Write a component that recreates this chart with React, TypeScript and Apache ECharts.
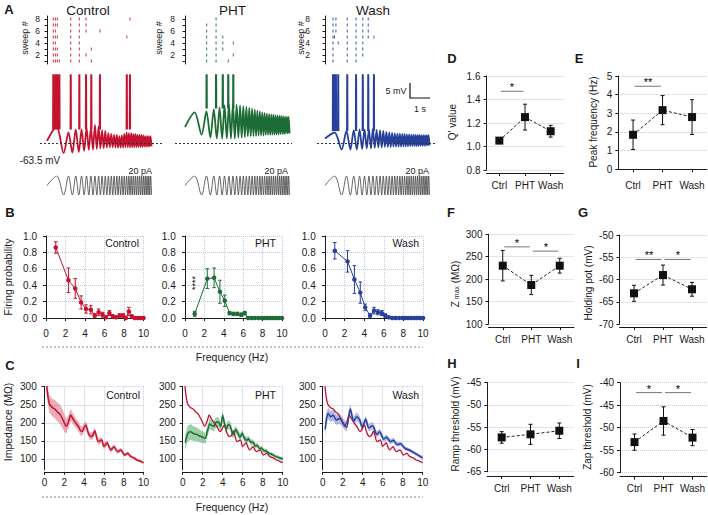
import React, { useEffect, useRef } from 'react';
import * as echarts from 'echarts';

const FONT = '"Liberation Sans", Arial, Helvetica, sans-serif';
const INK = '#1a1a1a';
const GRIDC = '#c3c7de';
const RED = '#c4122f';
const GREEN = '#1d6b35';
const BLUE = '#26409b';
const RED_BAND = 'rgba(205, 60, 80, 0.42)';
const GREEN_BAND = 'rgba(40, 150, 60, 0.45)';
const BLUE_BAND = 'rgba(70, 90, 190, 0.42)';

// ---------------- Panel A: ZAP stimulus extrema (s) and voltage responses (mV) ----------------
const zapExtremaT = [
  0.456, 0.791, 1.021, 1.208, 1.369, 1.514, 1.646, 1.768, 1.882, 1.990,
  2.092, 2.189, 2.282, 2.372, 2.458, 2.541, 2.622, 2.700, 2.776, 2.850,
  2.923, 2.993, 3.062, 3.129, 3.195, 3.260, 3.323, 3.385, 3.446, 3.506,
  3.565, 3.623, 3.680, 3.736, 3.791, 3.846, 3.900, 3.953, 4.005, 4.057,
  4.108, 4.158, 4.208, 4.257, 4.306, 4.354, 4.402, 4.449, 4.495, 4.541,
  4.587, 4.632, 4.677, 4.721, 4.765, 4.809, 4.852, 4.895, 4.937, 4.979,
];
const baselineMV = -63.5;
const ctrlTraceStart = -62.8;
const ctrlTraceV = [
  -58.0, -66.9, -60.0, -66.7, -59.0, -66.5, -59.0, -66.2, -58.5, -65.8,
  -58.5, -65.7, -57.5, -65.5, -58.0, -65.3, -59.2, -65.2, -59.5, -65.0,
  -60.2, -64.9, -60.5, -64.9, -60.8, -65.0, -60.8, -65.0, -61.2, -65.0,
  -61.0, -65.0, -60.5, -64.9, -60.0, -64.9, -60.2, -65.0, -60.2, -65.0,
  -60.5, -64.9, -60.5, -64.9, -60.7, -64.8, -60.8, -64.8, -60.8, -64.8,
  -61.0, -64.7, -61.2, -64.7, -61.2, -64.7, -61.2, -64.6, -61.3, -64.6,
];
const phtTraceStart = -58.2;
const phtTraceV = [
  -53.3, -60.7, -53.0, -61.7, -52.3, -62.0, -51.7, -62.0, -51.0, -62.0,
  -50.7, -62.0, -50.5, -62.0, -50.7, -61.7, -51.0, -61.7, -51.2, -61.5,
  -51.5, -61.3, -51.7, -61.3, -52.0, -61.2, -52.3, -61.2, -52.7, -61.0,
  -53.0, -61.0, -53.3, -61.0, -53.5, -60.8, -53.7, -60.8, -53.8, -60.8,
  -54.0, -60.7, -54.0, -60.7, -54.2, -60.7, -54.3, -60.6, -54.4, -60.5,
  -54.5, -60.5, -54.6, -60.5, -54.7, -60.4, -54.7, -60.3, -54.8, -60.3,
];
const washTraceStart = -62.0;
const washTraceV = [
  -60.0, -65.7, -59.5, -65.7, -59.2, -65.7, -59.0, -65.5, -59.0, -65.3,
  -59.0, -65.3, -58.8, -65.1, -59.1, -65.0, -59.3, -65.0, -59.5, -64.8,
  -59.8, -64.8, -60.0, -64.8, -60.1, -64.7, -60.3, -64.7, -60.4, -64.7,
  -60.4, -64.7, -60.5, -64.6, -60.5, -64.6, -60.6, -64.6, -60.6, -64.5,
  -60.7, -64.5, -60.7, -64.5, -60.8, -64.5, -60.8, -64.5, -60.8, -64.4,
  -60.9, -64.4, -60.9, -64.4, -60.9, -64.4, -60.9, -64.3, -60.9, -64.3,
];
const ctrlSpikeBase = -59;
const phtSpikeBase = -52;
const washSpikeBase = -59.5;

// spike times (s) per sweep 1..8
const ctrlRaster = [
  [0.30, 0.40, 0.49, 0.59, 1.13, 1.54, 2.11],
  [0.30, 0.40, 0.49, 1.13, 1.54, 1.86],
  [0.30, 0.40, 0.49, 1.13, 1.54, 2.11],
  [0.30, 0.40, 1.13, 1.54],
  [0.30, 0.40, 0.49, 1.13, 1.54, 3.80],
  [0.30, 0.40, 1.13, 1.54, 1.86, 2.52],
  [0.30, 0.40, 0.49, 1.13, 1.54, 1.86],
  [0.30, 0.40, 0.49, 1.13, 1.54, 1.86, 3.95],
];
const phtRaster = [
  [1.03, 1.48, 2.06],
  [1.03, 1.48, 2.30],
  [1.03, 1.48, 1.80],
  [1.03, 1.48, 1.80, 2.30],
  [1.03, 1.48, 1.80],
  [1.03, 1.48],
  [1.03, 1.48],
  [1.48],
];
const washRaster = [
  [0.38, 1.06, 1.48],
  [0.38, 1.06, 1.48, 1.80],
  [0.38, 1.06, 1.48, 1.80],
  [0.38, 0.63, 1.06, 1.48, 1.80],
  [0.38, 0.45, 1.06, 1.48, 1.80, 2.06, 2.33],
  [0.38, 0.52, 1.06, 1.48, 1.80, 2.06],
  [0.38, 0.52, 1.06, 1.48, 1.80, 2.06],
  [0.38, 0.52, 1.06, 1.48, 1.80, 2.06],
];

// ---------------- Panel B: firing probability ----------------
const fpFreq = [1.0, 2.3, 3.0, 3.6, 4.1, 4.6, 5.0, 5.4, 5.8, 6.15, 6.5, 6.85, 7.2, 7.55, 7.9, 8.2, 8.5, 8.8, 9.1, 9.4, 9.7, 10.0];
const ctrlFP = [0.86, 0.46, 0.36, 0.19, 0.11, 0.10, 0.03, 0.07, 0.04, 0.01, 0.06, 0.02, 0.01, 0.03, 0.03, 0.0, 0.08, 0.02, 0.0, 0.0, 0.0, 0.0];
const ctrlFPErr = [0.07, 0.15, 0.12, 0.08, 0.05, 0.05, 0.02, 0.04, 0.03, 0.01, 0.03, 0.02, 0.01, 0.02, 0.02, 0, 0.05, 0.02, 0, 0, 0, 0];
const phtFP = [0.05, 0.48, 0.49, 0.32, 0.21, 0.06, 0.05, 0.05, 0.04, 0.06, 0, 0, 0, 0, 0, 0, 0, 0, 0, 0, 0, 0];
const phtFPErr = [0.03, 0.12, 0.12, 0.14, 0.07, 0.02, 0.02, 0.02, 0.02, 0.02, 0, 0, 0, 0, 0, 0, 0, 0, 0, 0, 0, 0];
const washFP = [0.82, 0.69, 0.47, 0.31, 0.13, 0.03, 0.09, 0.07, 0.06, 0.03, 0.01, 0, 0, 0, 0, 0, 0, 0, 0, 0, 0, 0];
const washFPErr = [0.1, 0.13, 0.17, 0.13, 0.04, 0.02, 0.04, 0.03, 0.03, 0.02, 0.01, 0, 0, 0, 0, 0, 0, 0, 0, 0, 0, 0];

// ---------------- Panel C: impedance profiles ----------------
const ctrlZF = [0.2, 0.3, 0.5, 0.8, 1.05, 1.3, 1.55, 1.8, 2.0, 2.2, 2.45, 2.65, 2.85, 3.05, 3.25, 3.45, 3.6, 3.78, 3.98, 4.18, 4.35, 4.52, 4.7, 4.88, 5.08, 5.25, 5.42, 5.6, 5.78, 5.98, 6.18, 6.35, 6.52, 6.7, 6.88, 7.05, 7.22, 7.4, 7.57, 7.74, 7.92, 8.08, 8.25, 8.42, 8.62, 8.85, 9.1, 9.35, 9.6, 9.8, 10.0];
const ctrlZ = [310, 282, 252, 242, 238, 230, 224, 212, 200, 190, 205, 222, 212, 204, 196, 189, 180, 176, 186, 194, 178, 166, 162, 165, 178, 162, 148, 150, 153, 135, 140, 145, 133, 125, 130, 134, 125, 120, 123, 125, 117, 111, 113, 116, 109, 105, 102, 97, 95, 92, 90];
const ctrlZErr = [24, 24, 24, 24, 25, 26, 27, 26, 24, 21, 18, 16, 15, 14, 13, 13, 13, 13, 12, 11, 11, 10, 10, 10, 10, 9, 9, 9, 8, 8, 8, 7, 7, 7, 7, 6, 6, 6, 6, 6, 5, 5, 5, 5, 5, 4, 4, 4, 4, 4, 4];
const phtZF = [0.25, 0.5, 0.8, 1.1, 1.4, 1.75, 2.0, 2.25, 2.5, 2.7, 2.9, 3.1, 3.3, 3.55, 3.8, 4.0, 4.2, 4.35, 4.55, 4.75, 4.95, 5.1, 5.3, 5.5, 5.75, 5.95, 6.15, 6.4, 6.6, 6.8, 7.05, 7.25, 7.45, 7.7, 7.9, 8.1, 8.35, 8.6, 8.9, 9.2, 9.5, 9.8, 10.0];
const phtZ = [145, 170, 175, 170, 168, 163, 160, 157, 180, 197, 193, 190, 200, 203, 190, 220, 195, 183, 195, 192, 172, 168, 182, 172, 160, 172, 158, 152, 156, 146, 146, 136, 138, 128, 130, 123, 122, 116, 113, 108, 105, 102, 100];
const phtZErr = [20, 22, 22, 20, 19, 17, 16, 15, 15, 15, 14, 14, 14, 14, 13, 13, 12, 12, 12, 11, 11, 11, 10, 10, 10, 9, 9, 9, 8, 8, 8, 7, 7, 7, 6, 6, 6, 5, 5, 5, 5, 5, 5];
const washZF = [0.25, 0.4, 0.55, 0.8, 1.05, 1.35, 1.7, 2.05, 2.4, 2.75, 3.1, 3.4, 3.7, 3.95, 4.3, 4.6, 5.0, 5.4, 5.7, 6.1, 6.4, 6.77, 7.1, 7.4, 7.8, 8.2, 8.7, 9.2, 9.7, 10.0];
const washZ = [182, 215, 226, 217, 221, 208, 212, 199, 188, 238, 205, 217, 208, 188, 210, 186, 192, 168, 175, 155, 160, 148, 152, 140, 142, 130, 124, 116, 108, 103];
const washZErr = [20, 18, 16, 15, 15, 14, 14, 13, 13, 12, 12, 12, 11, 11, 10, 10, 10, 9, 9, 8, 8, 7, 7, 6, 6, 6, 5, 5, 5, 5];
const zTicks = [100, 150, 200, 250, 300];

// ---------------- Panels D–I: group means ± error ----------------
const groups = ['Ctrl', 'PHT', 'Wash'];
const qValue = [1.05, 1.25, 1.13];
const qValueErr = [0.02, 0.11, 0.05];
const peakFreq = [1.85, 3.17, 2.8];
const peakFreqErr = [0.79, 0.78, 0.93];
const zMax = [230, 187, 230];
const zMaxErr = [34, 21.5, 16.5];
const holdingPot = [-63.1, -59.0, -62.2];
const holdingPotErr = [1.8, 2.25, 1.55];
const rampThr = [-57.3, -56.6, -55.8];
const rampThrErr = [1.3, 2.25, 1.75];
const zapThr = [-53.2, -48.5, -52.2];
const zapThrErr = [1.8, 3.15, 1.8];
const qSig = [{ a: 0, b: 1, y: 1.47, t: '*' }];
const peakSig = [{ a: 0, b: 1, y: 4.45, t: '**' }];
const zMaxSig = [{ a: 0, b: 1, y: 272, t: '*' }, { a: 1, b: 2, y: 262.5, t: '*' }];
const holdSig = [{ a: 0, b: 1, y: -55.5, t: '**' }, { a: 1, b: 2, y: -55.5, t: '*' }];
const rampSig: { a: number; b: number; y: number; t: string }[] = [];
const zapSig = [{ a: 0, b: 1, y: -42.2, t: '*' }, { a: 1, b: 2, y: -42.2, t: '*' }];

function buildOption() {
  const grids: any[] = [];
  const xAxes: any[] = [];
  const yAxes: any[] = [];
  const series: any[] = [];
  const addGrid = (g: any, xa: any, ya: any) => {
    const idx = grids.length;
    grids.push({ containLabel: false, outerBoundsMode: 'none', ...g });
    xAxes.push({ gridIndex: idx, ...xa });
    yAxes.push({ gridIndex: idx, ...ya });
    return idx;
  };
  const axisLine = { show: true, lineStyle: { color: INK, width: 1 } };
  const axisTick = { show: true, length: 3, inside: false, lineStyle: { color: INK, width: 1 } };
  const lbl = { color: INK, fontSize: 10, fontFamily: FONT };
  const dotted = { show: true, lineStyle: { color: GRIDC, type: 'dotted', width: 1 } };

  const errorBars = (gi: number, data: number[][], color: string, cap = 2) => ({
    type: 'custom', xAxisIndex: gi, yAxisIndex: gi, z: 3, silent: true,
    itemStyle: { color },
    data: data.filter((d) => d[2] > 0),
    encode: { x: 0, y: 1 },
    renderItem: (_p: any, api: any) => {
      const x = api.value(0), y = api.value(1), e = api.value(2);
      const t = api.coord([x, y + e]);
      const b = api.coord([x, y - e]);
      const style = { stroke: color, lineWidth: 1 };
      return {
        type: 'group', children: [
          { type: 'line', shape: { x1: t[0], y1: t[1], x2: b[0], y2: b[1] }, style },
          { type: 'line', shape: { x1: t[0] - cap, y1: t[1], x2: t[0] + cap, y2: t[1] }, style },
          { type: 'line', shape: { x1: b[0] - cap, y1: b[1], x2: b[0] + cap, y2: b[1] }, style },
        ],
      };
    },
  });

  // ---------- Panel A ----------
  const PX_S = 21;
  const SEC = 5;
  const V_MIN = -69.17, V_MAX = -40.83;
  const aPanels = [
    { x0: 47, axisX: 44, dashL: 40, dashR: 162, color: RED, start: ctrlTraceStart, vals: ctrlTraceV, raster: ctrlRaster, base: ctrlSpikeBase },
    { x0: 185, axisX: 179, dashL: 175, dashR: 292, color: GREEN, start: phtTraceStart, vals: phtTraceV, raster: phtRaster, base: phtSpikeBase },
    { x0: 325, axisX: 314, dashL: 317, dashR: 437, color: BLUE, start: washTraceStart, vals: washTraceV, raster: washRaster, base: washSpikeBase },
  ];
  aPanels.forEach((p) => {
    const ri = addGrid(
      { left: p.axisX, top: 16, width: p.x0 + SEC * PX_S - p.axisX, height: 48 },
      { type: 'value', min: (p.axisX - p.x0) / PX_S, max: SEC, show: false },
      {
        type: 'value', min: 0.5, max: 8.5, axisLine,
        axisTick: { ...axisTick, length: 2.5, customValues: [1, 2, 3, 4, 5, 6, 7, 8] },
        axisLabel: { ...lbl, fontSize: 8.5, margin: 4, customValues: [2, 4, 6, 8] },
        splitLine: { show: false },
      },
    );
    series.push({
      type: 'scatter', xAxisIndex: ri, yAxisIndex: ri, silent: true, symbol: 'rect', symbolSize: [1.1, 3],
      itemStyle: { color: p.color },
      data: p.raster.flatMap((ts, i) => ts.map((t) => [t, i + 1])),
    });

    const ti = addGrid(
      { left: p.dashL, top: 75, width: p.dashR - p.dashL, height: 85 },
      { type: 'value', min: (p.dashL - p.x0) / PX_S, max: (p.dashR - p.x0) / PX_S, show: false },
      { type: 'value', min: V_MIN, max: V_MAX, show: false },
    );
    series.push({
      type: 'line', xAxisIndex: ti, yAxisIndex: ti, silent: true, showSymbol: false, smooth: 0.3, z: 3,
      itemStyle: { color: p.color },
      lineStyle: { color: p.color, width: 1.8 },
      data: [[0, p.start], ...zapExtremaT.map((t, i) => [t, p.vals[i]])],
      markLine: {
        silent: true, symbol: 'none', label: { show: false },
        lineStyle: { color: '#333', type: [2, 2], width: 1 },
        data: [{ yAxis: baselineMV }],
      },
    });
    const spikeT = Array.from(new Set(p.raster.flat())).sort((a, b) => a - b);
    const spikeData: any[] = [];
    spikeT.forEach((t) => {
      spikeData.push([t - 0.025, p.base], [t, 0], [t + 0.025, p.base], [t, '-']);
    });
    series.push({
      type: 'line', xAxisIndex: ti, yAxisIndex: ti, silent: true, showSymbol: false, z: 4,
      itemStyle: { color: p.color },
      connectNulls: false, lineStyle: { color: p.color, width: 1.3 }, data: spikeData,
    });

    const zi = addGrid(
      { left: p.x0, top: 176, width: SEC * PX_S, height: 19 },
      { type: 'value', min: 0, max: SEC, show: false },
      { type: 'value', min: -1, max: 1, show: false },
    );
    series.push({
      type: 'line', xAxisIndex: zi, yAxisIndex: zi, silent: true, showSymbol: false, smooth: 0.35,
      itemStyle: { color: '#444' },
      lineStyle: { color: '#444', width: 0.8 },
      data: [[0, 0], ...zapExtremaT.map((t, i) => [t, i % 2 === 0 ? 1 : -1])],
    });
  });

  // ---------- Panel B ----------
  const bPanels = [
    { left: 46, width: 97.5, axisX: 43, color: RED, v: ctrlFP, e: ctrlFPErr },
    { left: 185, width: 97, axisX: 181.7, color: GREEN, v: phtFP, e: phtFPErr },
    { left: 325, width: 98, axisX: 321.7, color: BLUE, v: washFP, e: washFPErr },
  ];
  bPanels.forEach((p) => {
    const gi = addGrid(
      { left: p.left, top: 236, width: p.width, height: 82 },
      { type: 'value', min: 0, max: 10, interval: 2, offset: 4, axisLine, axisTick, axisLabel: { ...lbl, margin: 6 }, splitLine: dotted },
      { type: 'value', min: 0, max: 1, interval: 0.2, offset: p.left - p.axisX, axisLine, axisTick, axisLabel: { ...lbl, margin: 6, formatter: (v: number) => v.toFixed(1) }, splitLine: dotted },
    );
    series.push(errorBars(gi, fpFreq.map((f, i) => [f, p.v[i], p.e[i]]), p.color, 1.8));
    series.push({
      type: 'line', xAxisIndex: gi, yAxisIndex: gi, silent: true, z: 4, symbol: 'circle', symbolSize: 4.5,
      itemStyle: { color: p.color }, lineStyle: { color: p.color, width: 1 },
      data: fpFreq.map((f, i) => [f, p.v[i]]),
    });
  });

  // ---------- Panel C ----------
  const bandSeries = (gi: number, f: number[], v: number[], hw: number[], color: string) => ({
    type: 'custom', xAxisIndex: gi, yAxisIndex: gi, clip: true, silent: true, z: 1,
    itemStyle: { color },
    data: [[f[0], v[0]]],
    renderItem: (_p: any, api: any) => {
      const up = f.map((x, i) => api.coord([x, v[i] + hw[i]]));
      const lo = f.map((x, i) => api.coord([x, v[i] - hw[i]])).reverse();
      return { type: 'polygon', shape: { points: up.concat(lo) }, style: { fill: color } };
    },
  });
  const cPanels = [
    { left: 44.5, width: 99, axisX: 42.7, color: RED, band: RED_BAND, f: ctrlZF, v: ctrlZ, e: ctrlZErr, ref: false },
    { left: 182.7, width: 100, axisX: 181.7, color: GREEN, band: GREEN_BAND, f: phtZF, v: phtZ, e: phtZErr, ref: true },
    { left: 322.7, width: 100, axisX: 321.7, color: BLUE, band: BLUE_BAND, f: washZF, v: washZ, e: washZErr, ref: true },
  ];
  cPanels.forEach((p) => {
    const gi = addGrid(
      { left: p.left, top: 386.7, width: p.width, height: 83.1 },
      { type: 'value', min: 0, max: 10, interval: 2, offset: 2, axisLine, axisTick, axisLabel: { ...lbl, margin: 6 }, splitLine: dotted },
      {
        type: 'value', min: 70, max: 300, offset: p.left - p.axisX, axisLine,
        axisTick: { ...axisTick, customValues: zTicks },
        axisLabel: { ...lbl, margin: 6, customValues: zTicks },
        splitLine: { show: false },
      },
    );
    series.push(bandSeries(gi, p.f, p.v, p.e, p.band));
    if (p.ref) {
      series.push({
        type: 'line', xAxisIndex: gi, yAxisIndex: gi, silent: true, showSymbol: false, smooth: 0.25, z: 2,
        itemStyle: { color: RED },
        lineStyle: { color: RED, width: 1.3 }, data: ctrlZF.map((f, i) => [f, ctrlZ[i]]),
      });
    }
    series.push({
      type: 'line', xAxisIndex: gi, yAxisIndex: gi, silent: true, showSymbol: false, smooth: 0.25, z: 3,
      itemStyle: { color: p.color },
      lineStyle: { color: p.color, width: 1.5 }, data: p.f.map((f, i) => [f, p.v[i]]),
      markLine: {
        silent: true, symbol: 'none', label: { show: false }, z: 0,
        lineStyle: { color: GRIDC, type: 'dotted', width: 1 },
        data: zTicks.map((t) => ({ yAxis: t })),
      },
    });
  });

  // ---------- Panels D–I ----------
  const rPanels = [
    { left: 486.5, top: 76, width: 77, height: 94, min: 0.8, max: 1.6, interval: 0.2, dec: 1, xOff: 3, v: qValue, e: qValueErr, sig: qSig },
    { left: 618.3, top: 76, width: 88.5, height: 93.3, min: 0, max: 5, interval: 1, dec: 0, xOff: 3.7, v: peakFreq, e: peakFreqErr, sig: peakSig },
    { left: 488.5, top: 234.3, width: 85.5, height: 89.7, min: 100, max: 300, interval: 50, dec: 0, xOff: 3, v: zMax, e: zMaxErr, sig: zMaxSig },
    { left: 619.5, top: 235, width: 87, height: 89, min: -70, max: -50, interval: 5, dec: 0, xOff: 3, v: holdingPot, e: holdingPotErr, sig: holdSig },
    { left: 487.3, top: 382.7, width: 86.4, height: 89, min: -65, max: -45, interval: 5, dec: 0, xOff: 4.3, v: rampThr, e: rampThrErr, sig: rampSig },
    { left: 620, top: 382.7, width: 87, height: 90, min: -60, max: -40, interval: 5, dec: 0, xOff: 4, v: zapThr, e: zapThrErr, sig: zapSig },
  ];
  rPanels.forEach((p) => {
    const gi = addGrid(
      { left: p.left, top: p.top, width: p.width, height: p.height },
      {
        type: 'category', data: groups, boundaryGap: true, offset: p.xOff, axisLine,
        axisTick: { ...axisTick, alignWithLabel: true }, axisLabel: { ...lbl, margin: 7, interval: 0 }, splitLine: { show: false },
      },
      {
        type: 'value', min: p.min, max: p.max, interval: p.interval, axisLine, axisTick,
        axisLabel: { ...lbl, margin: 6, formatter: (v: number) => v.toFixed(p.dec) }, splitLine: dotted,
      },
    );
    series.push(errorBars(gi, p.v.map((v, i) => [i, v, p.e[i]]), '#111', 2));
    series.push({
      type: 'line', xAxisIndex: gi, yAxisIndex: gi, silent: true, z: 4, symbol: 'rect', symbolSize: 8,
      itemStyle: { color: '#111' }, lineStyle: { color: '#222', width: 1, type: [3, 2] },
      data: p.v,
    });
    if (p.sig.length) {
      const sig = p.sig;
      series.push({
        type: 'custom', xAxisIndex: gi, yAxisIndex: gi, silent: true, z: 5,
        itemStyle: { color: INK },
        data: sig.map((s) => [s.a, s.b, s.y]),
        encode: { x: [0, 1], y: 2 },
        renderItem: (params: any, api: any) => {
          const s = sig[params.dataIndex];
          const p1 = api.coord([s.a, s.y]);
          const p2 = api.coord([s.b, s.y]);
          const x1 = p1[0] + 1.5, x2 = p2[0] - 1.5;
          return {
            type: 'group', children: [
              { type: 'line', shape: { x1, y1: p1[1], x2, y2: p1[1] }, style: { stroke: '#777', lineWidth: 1 } },
              {
                type: 'text', x: Math.round((x1 + x2) / 2), y: Math.round(p1[1] - 4),
                style: { text: s.t, fill: '#000', fontSize: 11, fontFamily: FONT, textAlign: 'center', textVerticalAlign: 'middle' },
              },
            ],
          };
        },
      });
    }
  });

  // ---------- graphic annotations ----------
  const txt = (text: string, x: number, y: number, size = 10, o: any = {}) => ({
    type: 'text', x, y, rotation: o.rot || 0, silent: true, z: 10,
    style: {
      text, fill: o.fill || INK, fontSize: size, fontFamily: FONT, fontWeight: o.bold ? 'bold' : 'normal',
      textAlign: o.align || 'center', textVerticalAlign: 'middle', rich: o.rich,
    },
  });
  const R = Math.PI / 2;
  const elements: any[] = [
    txt('A', 9, 9, 13, { bold: true }), txt('B', 10, 212, 13, { bold: true }), txt('C', 10, 365, 13, { bold: true }),
    txt('D', 452, 58, 13, { bold: true }), txt('E', 579, 58, 13, { bold: true }), txt('F', 451, 212, 13, { bold: true }),
    txt('G', 583, 212, 13, { bold: true }), txt('H', 452, 363, 13, { bold: true }), txt('I', 578, 363, 13, { bold: true }),
    txt('Control', 88, 10, 13.5), txt('PHT', 232.5, 10, 13.5), txt('Wash', 373, 10, 13.5),
    txt('sweep #', 24.5, 38, 9, { rot: R }), txt('sweep #', 158.5, 38, 9, { rot: R }), txt('sweep #', 301, 38, 9, { rot: R }),
    txt('-63.5 mV', 40, 160, 10),
    txt('20 pA', 152, 171, 9, { align: 'right' }), txt('20 pA', 288, 171, 9, { align: 'right' }), txt('20 pA', 429, 171, 9, { align: 'right' }),
    txt('5 mV', 396, 91, 9), txt('1 s', 420, 109, 9),
    { type: 'polyline', silent: true, shape: { points: [[410, 83], [410, 98], [430, 98]] }, style: { stroke: '#111', lineWidth: 1.2, fill: null } },
    txt('Firing probability', 8, 277, 10.5, { rot: R }),
    txt('Control', 139, 243, 10.5, { align: 'right' }), txt('PHT', 276, 243, 10.5, { align: 'right' }), txt('Wash', 419, 243, 10.5, { align: 'right' }),
    txt('****', 195, 283, 9, { rot: R, fill: '#000' }),
    { type: 'line', silent: true, shape: { x1: 42, y1: 347, x2: 423, y2: 347 }, style: { stroke: '#888', lineWidth: 1, lineDash: [2, 2] } },
    txt('Frequency (Hz)', 232, 357, 10.5),
    txt('Impedance (MΩ)', 8, 422, 10.5, { rot: R }),
    txt('Control', 140, 395, 10.5, { align: 'right' }), txt('PHT', 276, 395, 10.5, { align: 'right' }), txt('Wash', 419, 395, 10.5, { align: 'right' }),
    { type: 'line', silent: true, shape: { x1: 42, y1: 497, x2: 423, y2: 497 }, style: { stroke: '#888', lineWidth: 1, lineDash: [2, 2] } },
    txt('Frequency (Hz)', 232, 507, 10.5),
    txt("Q' value", 452, 122, 10, { rot: R }),
    txt('Peak frequency (Hz)', 593, 122, 10, { rot: R }),
    txt('{a|Z}{b| max}{a| (MΩ)}', 455, 284, 10, {
      rot: R,
      rich: {
        a: { fontSize: 10, fontFamily: FONT, fill: INK },
        b: { fontSize: 7, fontFamily: FONT, fill: INK, verticalAlign: 'bottom' },
      },
    }),
    txt('Holding pot (mV)', 588, 283, 10, { rot: R }),
    txt('Ramp threshold (mV)', 455, 424, 10, { rot: R }),
    txt('Zap threshold (mV)', 587, 427, 10, { rot: R }),
  ];

  return {
    animation: false,
    backgroundColor: '#ffffff',
    color: [INK],
    textStyle: { fontFamily: FONT },
    grid: grids,
    xAxis: xAxes,
    yAxis: yAxes,
    series,
    graphic: { elements },
  };
}

export default function App() {
  const ref = useRef<HTMLDivElement>(null);
  useEffect(() => {
    if (!ref.current) return;
    const chart = echarts.init(ref.current, null, { renderer: 'svg' });
    chart.setOption(buildOption() as any);
    return () => chart.dispose();
  }, []);
  return <div ref={ref} style={{ position: 'fixed', left: 0, top: 0, width: 708, height: 515, background: '#fff' }} />;
}
